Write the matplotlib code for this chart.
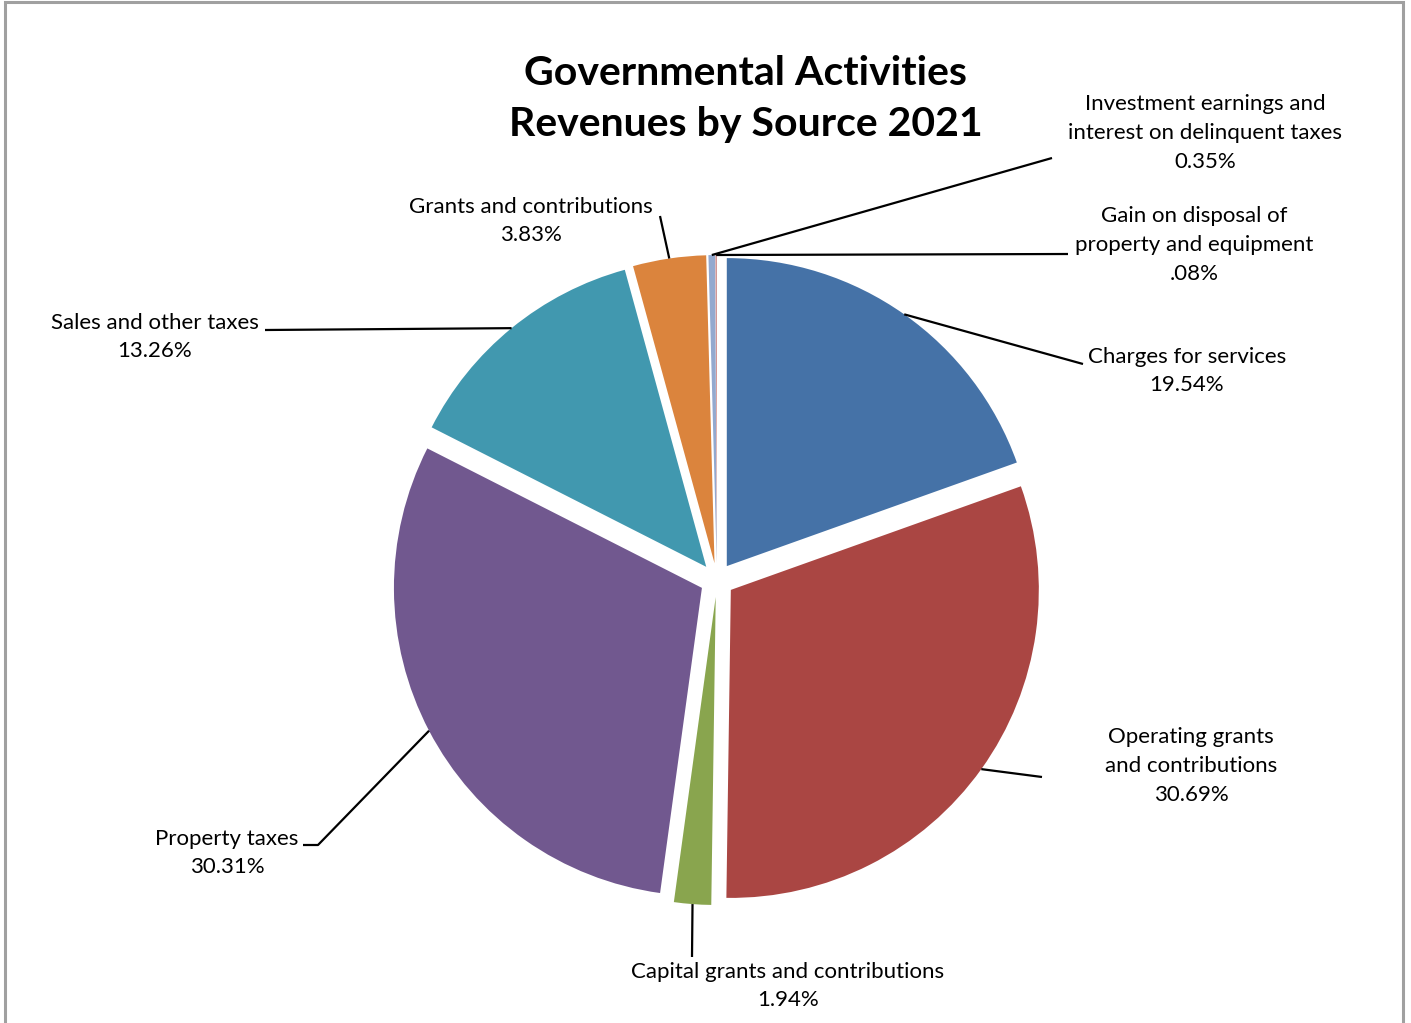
import numpy as np
import matplotlib.pyplot as plt
from matplotlib.patches import Rectangle

# data
labels = ["Charges for services", "Operating grants\nand contributions",
          "Capital grants and contributions", "Property taxes",
          "Sales and other taxes", "Grants and contributions",
          "Investment earnings and\ninterest on delinquent taxes",
          "Gain on disposal of\nproperty and equipment"]
shares = [19.54, 30.69, 1.94, 30.31, 13.26, 3.83, 0.35, 0.08]
pct_text = ["19.54%", "30.69%", "1.94%", "30.31%", "13.26%", "3.83%", "0.35%", ".08%"]
colors = ["#4572A7", "#AA4643", "#89A54E", "#71588F", "#4198AF", "#DB843D", "#93A9CF", "#D19392"]

W, H = 1411, 1023
fig = plt.figure(figsize=(W / 100, H / 100), dpi=100)
ax = fig.add_axes([0, 0, 1, 1])

cx, cy = 717, H - 580
R = 308
expl = 17  # pie explode is in data units here

wedges, _ = ax.pie(shares, colors=colors, startangle=90, counterclock=False,
                   radius=R, center=(cx, cy), explode=[expl] * len(shares),
                   wedgeprops=dict(linewidth=0), frame=True)
ax.set_xlim(0, W)
ax.set_ylim(0, H)
ax.set_aspect("equal")
ax.axis("off")

# label layout: leader path points (pixels, y down) and text centre
layout = [
    ([(1083, 364)], (1187, 371)),
    ([(1042, 777)], (1191, 766)),
    ([(692, 957)], (788, 986)),
    ([(318, 845), (303, 845)], (227, 853)),
    ([(265, 330)], (155, 337)),
    ([(660, 216)], (531, 221)),
    ([(1052, 158)], (1205, 133)),
    ([(1068, 254)], (1194, 245)),
]

font = ["Lato", "DejaVu Sans"]
for w, lab, pct, (path, (tx, ty)) in zip(wedges, labels, pct_text, layout):
    ang = np.radians((w.theta1 + w.theta2) / 2)
    x0 = w.center[0] + R * np.cos(ang)
    y0 = w.center[1] + R * np.sin(ang)
    xs = [x0] + [p[0] for p in path]
    ys = [y0] + [H - p[1] for p in path]
    ax.plot(xs, ys, color="black", lw=1.6, solid_capstyle="butt")
    ax.text(tx, H - ty, lab + "\n" + pct, ha="center", va="center",
            fontsize=16, family=font, linespacing=1.55)

ax.text(746, H - 99, "Governmental Activities\nRevenues by Source 2021",
        ha="center", va="center", fontsize=29.5, fontweight="bold",
        family=font, linespacing=1.45)

fig.patches.append(Rectangle((5 / W, -0.05), 1398 / W, 1.05 - 2 / H,
                             transform=fig.transFigure, fill=False,
                             edgecolor="#a0a0a0", lw=2.2))

fig.savefig("out.png", dpi=100)
